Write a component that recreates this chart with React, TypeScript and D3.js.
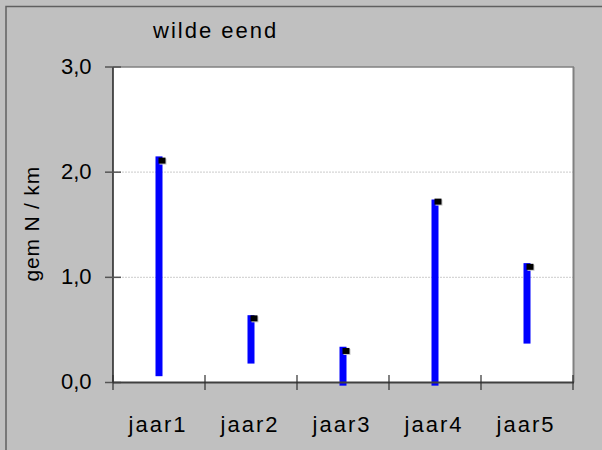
import React from "react";
import * as d3 from "d3";

const categories = ["jaar1", "jaar2", "jaar3", "jaar4", "jaar5"];
const highValues = [2.15, 0.64, 0.34, 1.74, 1.135];
const lowValues = [0.06, 0.18, -0.03, -0.03, 0.37];
const closeValues = [2.11, 0.61, 0.3, 1.72, 1.1];
const yTicks = [0, 1, 2, 3];
const yTickLabels = ["0,0", "1,0", "2,0", "3,0"];
const title = "wilde eend";
const yTitle = "gem N / km";

const W = 602;
const H = 450;
const left = 113;
const right = 573;
const top = 67;
const bottom = 382.5;
const FONT = "Liberation Sans, Arial, sans-serif";

export default function App() {
  const x = d3.scaleBand<string>().domain(categories).range([left, right]).padding(0);
  const y = d3.scaleLinear().domain([0, 3]).range([bottom, top]);
  const bw = x.bandwidth();
  const boundaries = d3.range(categories.length + 1).map((i) => left + i * bw);

  return (
    <svg width={W} height={H} style={{ position: "absolute", left: 0, top: 0 }}>
      <rect x={0} y={0} width={W} height={H} fill="#c0c0c0" />
      <rect x={6} y={6.5} width={W + 20} height={H + 20} fill="#c0c0c0" stroke="#606060" strokeWidth={1.5} />
      <rect x={left} y={top} width={right - left} height={bottom - top} fill="#ffffff" />
      {yTicks.filter((t) => t > 0 && t < 3).map((t) => (
        <line key={"g" + t} x1={left} x2={right} y1={y(t)} y2={y(t)} stroke="#d6d6d6" strokeWidth={1.2} strokeDasharray="2,1" />
      ))}
      <line x1={left} x2={right + 1} y1={top} y2={top} stroke="#808080" strokeWidth={1.5} />
      <line x1={right + 0.5} x2={right + 0.5} y1={top} y2={bottom} stroke="#808080" strokeWidth={2} />
      <line x1={left} x2={left} y1={top} y2={bottom} stroke="#202020" strokeWidth={1.5} />
      {yTicks.map((t) => (
        <line key={"t" + t} x1={105} x2={121} y1={y(t)} y2={y(t)} stroke="#555" strokeWidth={1.5} />
      ))}
      {categories.map((c, i) => {
        const cx = (x(c) as number) + bw / 2;
        const yh = y(highValues[i]);
        const yl = y(lowValues[i]);
        const yc = y(closeValues[i]);
        return (
          <g key={c}>
            <rect x={cx - 3.5} y={yh} width={7} height={yl - yh} fill="#0000ff" />
            <rect x={cx + 0.5} y={yc - 2} width={7} height={6} fill="#c8c8c8" />
            <rect x={cx - 0.5} y={yc - 3} width={7} height={6} fill="#000000" />
          </g>
        );
      })}
      <line x1={left} x2={right + 1} y1={bottom} y2={bottom} stroke="#404040" strokeWidth={2} />
      {boundaries.map((bx, i) => (
        <line key={"xt" + i} x1={bx} x2={bx} y1={375} y2={390} stroke="#303030" strokeWidth={1.2} />
      ))}
      {yTicks.map((t, i) => (
        <text key={"yl" + t} x={91.5} y={y(t) + 6.8} textAnchor="end" fontFamily={FONT} fontSize={22} fill="#000">
          {yTickLabels[i]}
        </text>
      ))}
      {categories.map((c) => (
        <text key={"xl" + c} x={(x(c) as number) + bw / 2 - 1} y={432} textAnchor="middle" fontFamily={FONT} fontSize={22} letterSpacing={2} fill="#000">
          {c}
        </text>
      ))}
      <text x={153} y={38} fontFamily={FONT} fontSize={22} letterSpacing={2} fill="#000">{title}</text>
      <text transform={`translate(39, ${(top + bottom) / 2 - 1}) rotate(-90)`} textAnchor="middle" fontFamily={FONT} fontSize={21} letterSpacing={0.8} fill="#000">
        {yTitle}
      </text>
    </svg>
  );
}
